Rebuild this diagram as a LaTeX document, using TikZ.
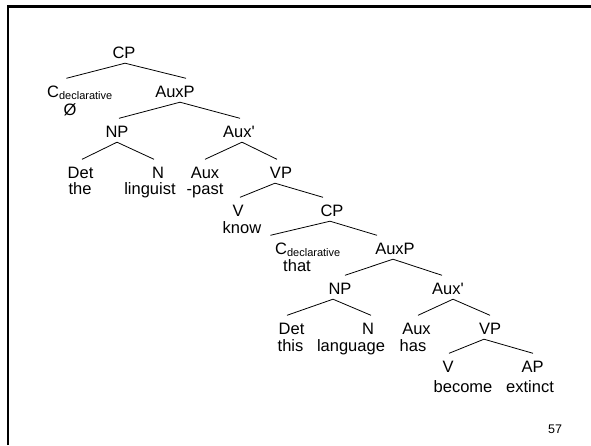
\documentclass[tikz,border=0pt]{standalone}
\usepackage{fontspec}
\setmainfont{Liberation Sans}
\begin{document}
\begin{tikzpicture}[x=1pt,y=-1pt,
  lab/.style={font=\fontsize{16.5}{16.5}\selectfont, inner xsep=0pt, inner ysep=5pt, text height=13.5pt, text depth=0pt, anchor=base},
  wd/.style={font=\fontsize{16.5}{16.5}\selectfont, inner sep=0pt, anchor=base},
  branch/.style={line width=0.8pt, black}]
\useasboundingbox (0,0) rectangle (591,445);
\fill[white] (0,0) rectangle (591,445);
\draw[line width=2.5pt] (8,445) -- (8,6.3) -- (591,6.3);
% upper tree
\node[lab] (CPa) at (124,58) {CP};
\node[lab, anchor=base west] (Cda) at (47,97) {C\raisebox{-2.5pt}{\fontsize{11}{11}\selectfont declarative}};
\node[wd] (nulla) at (70,115) {Ø};
\node[lab] (AuxPa) at (175,97) {AuxP};
\node[lab] (NPa) at (117,137) {NP};
\node[lab] (AuxBa) at (239,137) {Aux\textquotesingle};
\node[lab] (Deta) at (80.5,178) {Det};
\node[wd] (thea) at (80,194) {the};
\node[lab] (Na) at (158,178) {N};
\node[wd] (linguist) at (150,194) {linguist};
\node[lab] (Auxa) at (205,178) {Aux};
\node[wd] (past) at (205,194) {-past};
\node[lab] (VPa) at (281,178) {VP};
\node[lab] (Va) at (238,216) {V};
\node[wd] (know) at (242,233) {know};
\node[lab] (CPb) at (332,216) {CP};
% lower tree
\node[lab, anchor=base west] (Cdb) at (275,254) {C\raisebox{-2.5pt}{\fontsize{11}{11}\selectfont declarative}};
\node[wd] (that) at (297,271.5) {that};
\node[lab] (AuxPb) at (395,254) {AuxP};
\node[lab] (NPb) at (340,294) {NP};
\node[lab] (AuxBb) at (448,294) {Aux\textquotesingle};
\node[lab] (Detb) at (291.5,334) {Det};
\node[wd] (this) at (290.5,351) {this};
\node[lab] (Nb) at (368,334) {N};
\node[wd] (language) at (351,351) {language};
\node[lab] (Auxb) at (416.5,334) {Aux};
\node[wd] (has) at (413,351) {has};
\node[lab] (VPb) at (490,334) {VP};
\node[lab] (Vb) at (448,372) {V};
\node[wd] (become) at (463,392) {become};
\node[lab] (AP) at (532.5,372) {AP};
\node[wd] (extinct) at (530,392) {extinct};
\node[font=\fontsize{12.5}{12.5}\selectfont, inner sep=0pt, anchor=base] (pg) at (555,433) {57};
% branches
\draw[branch] ([xshift=1pt]CPa.south) -- ([xshift=-13.4pt]Cda.north);
\draw[branch] ([xshift=1pt]CPa.south) -- ([xshift=11pt]AuxPa.north);
\draw[branch] ([xshift=5pt]AuxPa.south) -- ([xshift=2pt]NPa.north);
\draw[branch] ([xshift=5pt]AuxPa.south) -- ([xshift=1pt]AuxBa.north);
\draw[branch] (NPa.south) -- ([xshift=1.5pt]Deta.north);
\draw[branch] (NPa.south) -- ([xshift=-4pt]Na.north);
\draw[branch] ([xshift=3pt]AuxBa.south) -- (Auxa.north);
\draw[branch] ([xshift=3pt]AuxBa.south) -- ([xshift=-4pt]VPa.north);
\draw[branch] ([xshift=-6pt]VPa.south) -- ([xshift=2pt]Va.north);
\draw[branch] ([xshift=-6pt]VPa.south) -- ([xshift=-9pt]CPb.north);
\draw[branch] ([xshift=-2pt]CPb.south) -- ([xshift=-37.4pt]Cdb.north);
\draw[branch] ([xshift=-2pt]CPb.south) -- ([xshift=-18pt]AuxPb.north);
\draw[branch] ([xshift=-2pt]AuxPb.south) -- ([xshift=5pt]NPb.north);
\draw[branch] ([xshift=-2pt]AuxPb.south) -- ([xshift=-6pt]AuxBb.north);
\draw[branch] ([xshift=-7pt]NPb.south) -- ([xshift=-4.5pt]Detb.north);
\draw[branch] ([xshift=-7pt]NPb.south) -- ([xshift=3pt]Nb.north);
\draw[branch] ([xshift=5pt]AuxBb.south) -- ([xshift=1.5pt]Auxb.north);
\draw[branch] ([xshift=5pt]AuxBb.south) -- (VPb.north);
\draw[branch] ([xshift=-6pt]VPb.south) -- ([xshift=1pt]Vb.north);
\draw[branch] ([xshift=-6pt]VPb.south) -- ([xshift=0.5pt]AP.north);
\end{tikzpicture}
\end{document}
